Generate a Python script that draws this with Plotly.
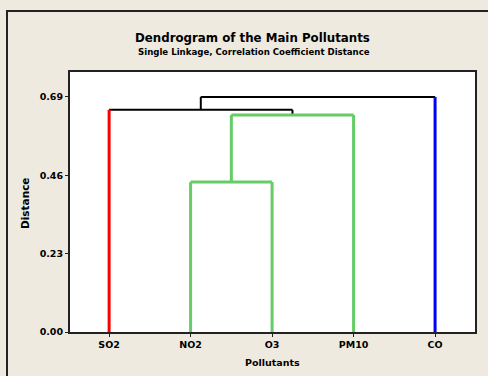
import plotly.graph_objects as go

# ---- data ----
leaf_labels = ["SO2", "NO2", "O3", "PM10", "CO"]
leaf_colors = ["#FF0000", "#66CC66", "#66CC66", "#66CC66", "#0000FF"]
# merges: (child_a, child_b, height, color); children: leaf index or "m<k>"
merges = [
    (1, 2, 0.44, "#66CC66"),
    ("m0", 3, 0.637, "#66CC66"),
    (0, "m1", 0.652, "#000000"),
    ("m2", 4, 0.69, "#000000"),
]
y_ticks = [0.00, 0.23, 0.46, 0.69]

# ---- build dendrogram segments ----
pos = {i: (i + 1, 0.0) for i in range(len(leaf_labels))}
segments = []  # (xs, ys, color)
for k, (a, b, h, col) in enumerate(merges):
    xs_mid = []
    for c in (a, b):
        cx, cy = pos[c]
        leg_col = leaf_colors[c] if isinstance(c, int) else col
        segments.append(([cx, cx], [cy, h], leg_col))
        xs_mid.append(cx)
    segments.append((xs_mid, [h, h], col))
    pos["m%d" % k] = (sum(xs_mid) / 2, h)

fig = go.Figure()
for xs, ys, col in sorted(segments, key=lambda s: s[2] != "#000000"):
    fig.add_trace(go.Scatter(
        x=xs, y=ys, mode="lines",
        line=dict(color=col, width=2 if col == "#000000" else 3),
        hoverinfo="skip", showlegend=False,
    ))

W, H = 488, 376
L, R, T, B = 70, 13, 72, 44
pw, ph = W - L - R, H - T - B


def px(xpix):
    return (xpix - L) / pw


def py(ypix):
    return (H - B - ypix) / ph


font_main = "DejaVu Sans, Verdana, sans-serif"


def ann(text, xp, yp, size, angle=0):
    return dict(text="<b>%s</b>" % text, x=px(xp), y=py(yp), textangle=angle,
                xref="paper", yref="paper", xanchor="center", yanchor="middle",
                showarrow=False, font=dict(size=size))


fig.update_layout(
    width=W, height=H,
    margin=dict(l=L, r=R, t=T, b=B, pad=0),
    paper_bgcolor="#EEEADF",
    plot_bgcolor="#FFFFFF",
    font=dict(family=font_main, color="#000000", size=10),
    xaxis=dict(
        range=[0.52, 5.49],
        tickvals=list(range(1, len(leaf_labels) + 1)),
        ticktext=["<b>%s</b>" % s for s in leaf_labels],
        showgrid=False, zeroline=False,
        showline=True, linecolor="#222222", linewidth=2, mirror=True,
        ticks="outside", ticklen=3, tickcolor="#222222",
        tickfont=dict(size=9.5),
    ),
    yaxis=dict(
        range=[0, 0.763],
        tickvals=y_ticks,
        ticktext=["<b>%.2f</b>" % v for v in y_ticks],
        showgrid=False, zeroline=False,
        showline=True, linecolor="#222222", linewidth=2, mirror=True,
        ticks="outside", ticklen=3, tickcolor="#222222",
        tickfont=dict(size=9.5),
    ),
    annotations=[
        ann("Dendrogram of the Main Pollutants", 252, 38, 11.8),
        ann("Single Linkage, Correlation Coefficient Distance", 254, 52, 8.6),
        ann("Distance", 25, 203, 10.5, -90),
        ann("Pollutants", 272, 362, 9.5),
    ],
    shapes=[
        dict(type="rect", xref="paper", yref="paper",
             x0=px(7), y0=py(420), x1=px(540), y1=py(11),
             line=dict(color="#222222", width=2), layer="below"),
    ],
)

fig.write_html(
    "out.html",
    config={"displayModeBar": False},
    post_script="document.body.style.margin='0';document.body.style.overflow='hidden';",
)
